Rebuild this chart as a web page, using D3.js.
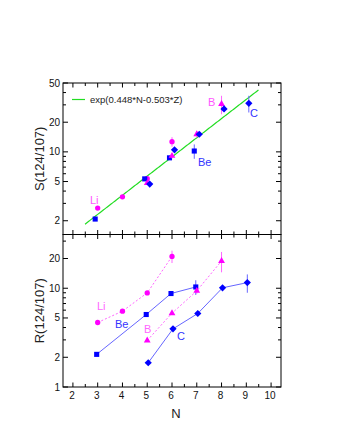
<!DOCTYPE html>
<html lang="en">
<head>
  <meta charset="UTF-8" />
  <title>S(124/107) and R(124/107) vs N</title>
  <script src="https://d3js.org/d3.v7.min.js"></script>
  <style>
    body { margin: 0; background: #fff; }
    text { font-family: "Liberation Sans", Arial, sans-serif; }
  </style>
</head>
<body>
  <svg id="chart" width="337" height="436"></svg>

  <script>
    // isotope N values
    const nLi = [3, 4, 5, 6];
    const nBe = [3, 5, 6, 7];
    const nB  = [5, 6, 7, 8];
    const nC  = [5, 6, 7, 8, 9];

    // top panel: S(124/107)
    const sLi = [2.69, 3.5, 5.35, 12.7];
    const sBe = [2.08, 5.32, 8.7, 10.2];
    const sB  = [4.82, 9.1, 15.1, 30.6];
    const sC  = [4.71, 10.5, 15.1, 27.3, 31.1];
    const sLiErr = [0, 0, 0.3, 1.4];
    const sBeErr = [0, 0.2, 0.4, 1.7];
    const sBErr  = [0.2, 0.5, 1.2, 6.5];
    const sCErr  = [0.2, 0.4, 0.6, 1.5, 6];

    // bottom panel: R(124/107)
    const rLi = [4.5, 5.86, 8.97, 21.0];
    const rBe = [2.14, 5.42, 8.84, 10.3];
    const rB  = [2.96, 5.59, 9.4, 18.9];
    const rC  = [1.76, 3.88, 5.55, 10.1, 11.4];
    const rLiErr = [0.1, 0.2, 0.3, 3];
    const rBeErr = [0.05, 0.2, 0.3, 1.75];
    const rBErr  = [0.1, 0.2, 0.6, 4.4];
    const rCErr  = [0.05, 0.2, 0.3, 0.6, 2.4];

    // fit: exp(0.448*N - 0.503*Z)
    const fitSlope = 0.448;
    const fitConst = 0.503;
    const fitRange = [2.49, 9.52];

    const xTicks = [2, 3, 4, 5, 6, 7, 8, 9, 10];
    const yTickLabels = [1, 2, 5, 10, 20, 50];

    const svg = d3.select("#chart");
    const left = 63, right = 281;
    const mid = 234.5;

    const x = d3.scaleLinear().domain([1.6, 10.4]).range([left, right]);
    const yTop = d3.scaleLog().domain([1.45, 50]).range([mid, 83]);
    const yBot = d3.scaleLog().domain([1, 35]).range([387, mid]);

    const magenta = "#ff00ff", blue = "#0000ff";

    function panel(y, title, showXLabels) {
      const g = svg.append("g");
      const [y0, y1] = y.range();

      // minor/major log ticks
      const [d0, d1] = y.domain();
      const ticks = [];
      for (let e = Math.floor(Math.log10(d0)); e <= Math.ceil(Math.log10(d1)); e++) {
        for (let m = 1; m < 10; m++) {
          const v = m * Math.pow(10, e);
          if (v >= d0 && v <= d1) ticks.push(v);
        }
      }
      ticks.forEach(v => {
        const major = yTickLabels.includes(v);
        const len = major ? 5 : 3;
        g.append("line").attr("x1", left).attr("x2", left + len)
          .attr("y1", y(v)).attr("y2", y(v)).attr("stroke", "#000");
        g.append("line").attr("x1", right).attr("x2", right - len)
          .attr("y1", y(v)).attr("y2", y(v)).attr("stroke", "#000");
      });
      yTickLabels.filter(v => v >= d0 && v <= d1).forEach(v => {
        g.append("text").attr("x", left - 3).attr("y", y(v))
          .attr("text-anchor", "end").attr("dominant-baseline", "central")
          .attr("font-size", 10).attr("fill", "#111").text(v);
      });

      // x ticks on both edges (inward)
      d3.range(2, 10.5, 0.5).forEach(n => {
        const len = Number.isInteger(n) ? 4.5 : 3;
        g.append("line").attr("x1", x(n)).attr("x2", x(n))
          .attr("y1", y0).attr("y2", y0 - len).attr("stroke", "#000");
        g.append("line").attr("x1", x(n)).attr("x2", x(n))
          .attr("y1", y1).attr("y2", y1 + len).attr("stroke", "#000");
      });
      if (showXLabels) {
        xTicks.forEach(n => {
          g.append("text").attr("x", x(n) - 1).attr("y", y0 + 12)
            .attr("text-anchor", "middle").attr("font-size", 10)
            .attr("fill", "#111").text(n);
        });
      }

      g.append("rect").attr("x", left).attr("y", y1)
        .attr("width", right - left).attr("height", y0 - y1)
        .attr("fill", "none").attr("stroke", "#000").attr("stroke-width", 1);

      g.append("text")
        .attr("transform", `translate(44,${(y0 + y1) / 2}) rotate(-90)`)
        .attr("text-anchor", "middle").attr("font-size", 13)
        .attr("fill", "#222").text(title);

      return g;
    }

    function drawSeries(g, y, s, withLines, shift) {
      const pts = s.n.map((n, i) => ({ n, v: s.v[i], e: s.e[i] }));
      const px = d => x(d.n) + shift;
      if (withLines) {
        g.append("path")
          .attr("d", d3.line().x(px).y(d => y(d.v))(pts))
          .attr("fill", "none").attr("stroke", s.lineColor)
          .attr("stroke-width", 1)
          .attr("stroke-dasharray", s.dashed ? "2,2" : null);
      }
      pts.forEach(d => {
        if (d.e > 0) {
          g.append("line").attr("x1", px(d)).attr("x2", px(d))
            .attr("y1", y(d.v + d.e)).attr("y2", y(Math.max(d.v - d.e, 0.01)))
            .attr("stroke", s.lineColor).attr("stroke-width", 1);
        }
      });
      g.selectAll(null).data(pts).join("path")
        .attr("transform", d => `translate(${px(d)},${y(d.v)}) rotate(${s.rot || 0})`)
        .attr("d", d3.symbol().type(s.symbol).size(s.size))
        .attr("fill", s.color);
    }

    function label(g, y, t, n, v, color) {
      g.append("text").attr("x", x(n)).attr("y", y(v))
        .attr("dominant-baseline", "central").attr("font-size", 11)
        .attr("fill", color).text(t);
    }

    const styles = {
      Li: { symbol: d3.symbolCircle, size: 22, color: magenta, lineColor: "#ff66ff", dashed: true },
      Be: { symbol: d3.symbolSquare, size: 26, color: blue, lineColor: "#6666ff" },
      B:  { symbol: d3.symbolTriangle, size: 20, color: magenta, lineColor: "#ff66ff", dashed: true },
      C:  { symbol: d3.symbolSquare, size: 26, rot: 45, color: blue, lineColor: "#6666ff" }
    };

    // ---- top panel
    const gTop = panel(yTop, "S(124/107)", false);
    gTop.append("path")
      .attr("d", d3.line().x(n => x(n)).y(n => yTop(Math.exp(fitSlope * n - fitConst)))
        (d3.range(fitRange[0], fitRange[1] + 0.001, 0.05)))
      .attr("fill", "none").attr("stroke", "#22dd22").attr("stroke-width", 1.2);

    const topShift = { Li: 0, Be: -2.5, B: 0, C: 2.5 };
    [
      Object.assign({ name: "Li", n: nLi, v: sLi, e: sLiErr }, styles.Li),
      Object.assign({ name: "Be", n: nBe, v: sBe, e: sBeErr }, styles.Be),
      Object.assign({ name: "B",  n: nB,  v: sB,  e: sBErr },  styles.B),
      Object.assign({ name: "C",  n: nC,  v: sC,  e: sCErr },  styles.C)
    ].forEach(s => drawSeries(gTop, yTop, s, false, topShift[s.name]));
    label(gTop, yTop, "Li", 2.69, 3.21, "#ff55ff");
    label(gTop, yTop, "B", 7.45, 32.3, "#ff55ff");
    label(gTop, yTop, "Be", 7.05, 7.97, "#3333ff");
    label(gTop, yTop, "C", 9.15, 25.0, "#3333ff");

    // legend
    gTop.append("line").attr("x1", 72).attr("x2", 85).attr("y1", 99.5).attr("y2", 99.5)
      .attr("stroke", "#22dd22").attr("stroke-width", 1.2);
    gTop.append("text").attr("x", 90).attr("y", 99.5).attr("dominant-baseline", "central")
      .attr("font-size", 9.5).attr("fill", "#222").text("exp(0.448*N-0.503*Z)");

    // ---- bottom panel
    const gBot = panel(yBot, "R(124/107)", true);
    const botShift = { Li: 0, Be: -1, B: 0, C: 1 };
    [
      Object.assign({ name: "Li", n: nLi, v: rLi, e: rLiErr }, styles.Li),
      Object.assign({ name: "Be", n: nBe, v: rBe, e: rBeErr }, styles.Be),
      Object.assign({ name: "B",  n: nB,  v: rB,  e: rBErr },  styles.B),
      Object.assign({ name: "C",  n: nC,  v: rC,  e: rCErr },  styles.C)
    ].forEach(s => drawSeries(gBot, yBot, s, true, botShift[s.name]));
    label(gBot, yBot, "Li", 2.97, 6.58, "#ff66ff");
    label(gBot, yBot, "Be", 3.70, 4.33, "#3333ff");
    label(gBot, yBot, "B", 4.87, 3.83, "#ff66ff");
    label(gBot, yBot, "C", 6.20, 3.27, "#3333ff");

    svg.append("text").attr("x", 176).attr("y", 418).attr("text-anchor", "middle")
      .attr("font-size", 13).attr("fill", "#222").text("N");
  </script>
</body>
</html>
